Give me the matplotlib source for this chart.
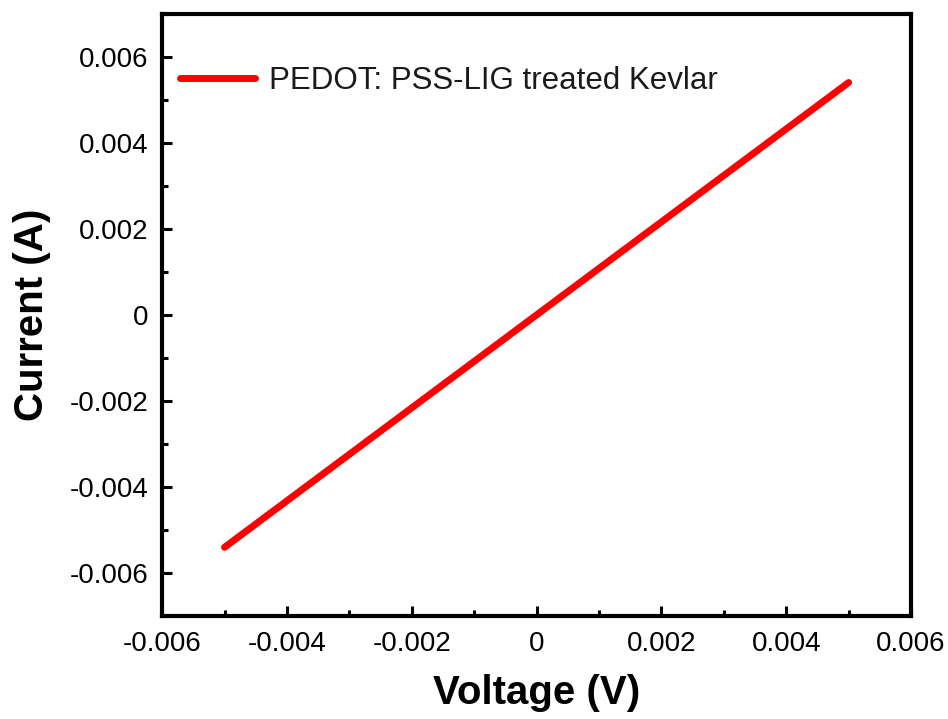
import matplotlib
matplotlib.use("Agg")
import matplotlib.pyplot as plt
from matplotlib.ticker import MultipleLocator, FuncFormatter

plt.rcParams['font.family'] = ['Liberation Sans', 'DejaVu Sans']

# I-V data
voltage = [-0.005, -0.004, -0.003, -0.002, -0.001, 0.0, 0.001, 0.002, 0.003, 0.004, 0.005]
current = [-0.0054, -0.00432, -0.00324, -0.00216, -0.00108, 0.0,
           0.00108, 0.00216, 0.00324, 0.00432, 0.0054]
series_label = "PEDOT: PSS-LIG treated Kevlar"


def fmt(v, pos):
    if abs(v) < 1e-9:
        return "0"
    return "%.3f" % v


fig = plt.figure(figsize=(9.48, 7.19), dpi=100)
ax = fig.add_axes([0.171, 0.143, 0.79, 0.838])

ax.plot(voltage, current, color="#ff0000", lw=5, solid_capstyle="round",
        label=series_label)

ax.set_xlim(-0.006, 0.006)
ax.set_ylim(-0.007, 0.007)
ax.xaxis.set_major_locator(MultipleLocator(0.002))
ax.xaxis.set_minor_locator(MultipleLocator(0.001))
ax.yaxis.set_major_locator(MultipleLocator(0.002))
ax.yaxis.set_minor_locator(MultipleLocator(0.001))
ax.xaxis.set_major_formatter(FuncFormatter(fmt))
ax.yaxis.set_major_formatter(FuncFormatter(fmt))

for s in ax.spines.values():
    s.set_linewidth(3)
ax.tick_params(which="both", direction="in", width=2.2, labelsize=20,
               top=False, right=False)
ax.tick_params(axis="y", which="major", length=7, pad=10)
ax.tick_params(axis="x", which="major", length=7, pad=11)
ax.tick_params(which="minor", length=4)

ax.set_xlabel("Voltage (V)", fontsize=29, fontweight="bold", labelpad=12)
ax.set_ylabel("Current (A)", fontsize=29, fontweight="bold", labelpad=13)

leg = ax.legend(loc="upper left", frameon=False, fontsize=22.5,
                handlelength=2.4, handletextpad=0.45,
                bbox_to_anchor=(-0.01, 0.955), borderaxespad=0.4)
for t in leg.get_texts():
    t.set_color("#1a1a1a")

fig.savefig("out.png", dpi=100)
